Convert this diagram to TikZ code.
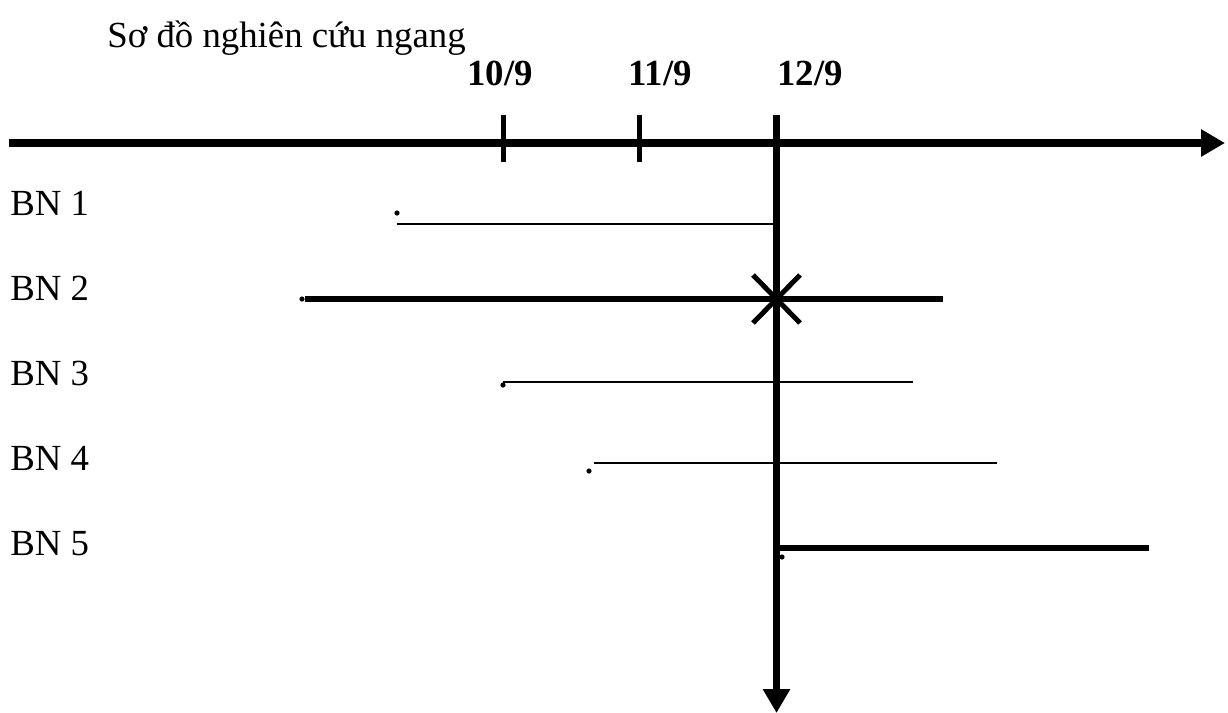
\documentclass[tikz,border=0pt]{standalone}
\usepackage{fontspec}
\setmainfont{Liberation Serif}
\usetikzlibrary{arrows.meta}

\begin{document}
\begin{tikzpicture}[x=0.5pt,y=-0.5pt,
  axis/.style={line width=3.8pt,-{Triangle[length=12pt,width=13pt]}},
  tick/.style={line width=2.5pt},
  bnthin/.style={line width=1pt},
  bnthick/.style={line width=2.7pt},
  dot/.style={circle,fill,inner sep=0pt,minimum size=2.6pt},
  lab/.style={inner sep=0pt,font=\fontsize{18.4}{22}\selectfont},
  day/.style={inner sep=0pt,font=\fontsize{18.4}{22}\selectfont\bfseries}
]
  \useasboundingbox (0,0) rectangle (1228,713);
  % title and time axis
  \node[lab,anchor=base west] (title) at (107,47) {Sơ đồ nghiên cứu ngang};
  \coordinate (tstart) at (9,143);
  \coordinate (tend) at (1225,143);
  \coordinate (vtop) at (776.5,115);
  \coordinate (vend) at (776.5,713);
  \draw[axis] (tstart) -- (tend);
  \draw[axis,line width=3.5pt] (vtop) -- (vend);
  \draw[tick] (503,115) -- (503,162);
  \draw[tick] (639,115) -- (639,162);
  \node[day,anchor=base] (d10) at (500,85) {10/9};
  \node[day,anchor=base] (d11) at (660,85) {11/9};
  \node[day,anchor=base] (d12) at (810,85) {12/9};
  % patients
  \node[lab,anchor=base west] (bn1) at (10,215) {BN 1};
  \node[lab,anchor=base west] (bn2) at (10,300) {BN 2};
  \node[lab,anchor=base west] (bn3) at (10,385) {BN 3};
  \node[lab,anchor=base west] (bn4) at (10,470) {BN 4};
  \node[lab,anchor=base west] (bn5) at (10,555) {BN 5};
  \node[dot] (p1) at (397,213) {};
  \node[dot] (p2) at (302,299) {};
  \node[dot] (p3) at (503,385) {};
  \node[dot] (p4) at (589,471) {};
  \node[dot] (p5) at (782,557) {};
  \coordinate (s1) at (397,224);  \coordinate (e1) at (776,224);
  \coordinate (s2) at (305,299);  \coordinate (e2) at (943,299);
  \coordinate (s3) at (503,382);  \coordinate (e3) at (913,382);
  \coordinate (s4) at (594,463);  \coordinate (e4) at (997,463);
  \coordinate (s5) at (780,548);  \coordinate (e5) at (1149,548);
  \draw[bnthin] (s1) -- (e1);
  \draw[bnthick] (s2) -- (e2);
  \draw[bnthin] (s3) -- (e3);
  \draw[bnthin] (s4) -- (e4);
  \draw[bnthick,line width=3pt] (s5) -- (e5);
  % event mark on BN 2
  \coordinate (xm) at (776.5,299);
  \draw[line width=2.5pt] ([shift={(-23.5,-24)}]xm) -- ([shift={(23.5,24)}]xm)
                          ([shift={(23.5,-24)}]xm) -- ([shift={(-23.5,24)}]xm);
\end{tikzpicture}
\end{document}
